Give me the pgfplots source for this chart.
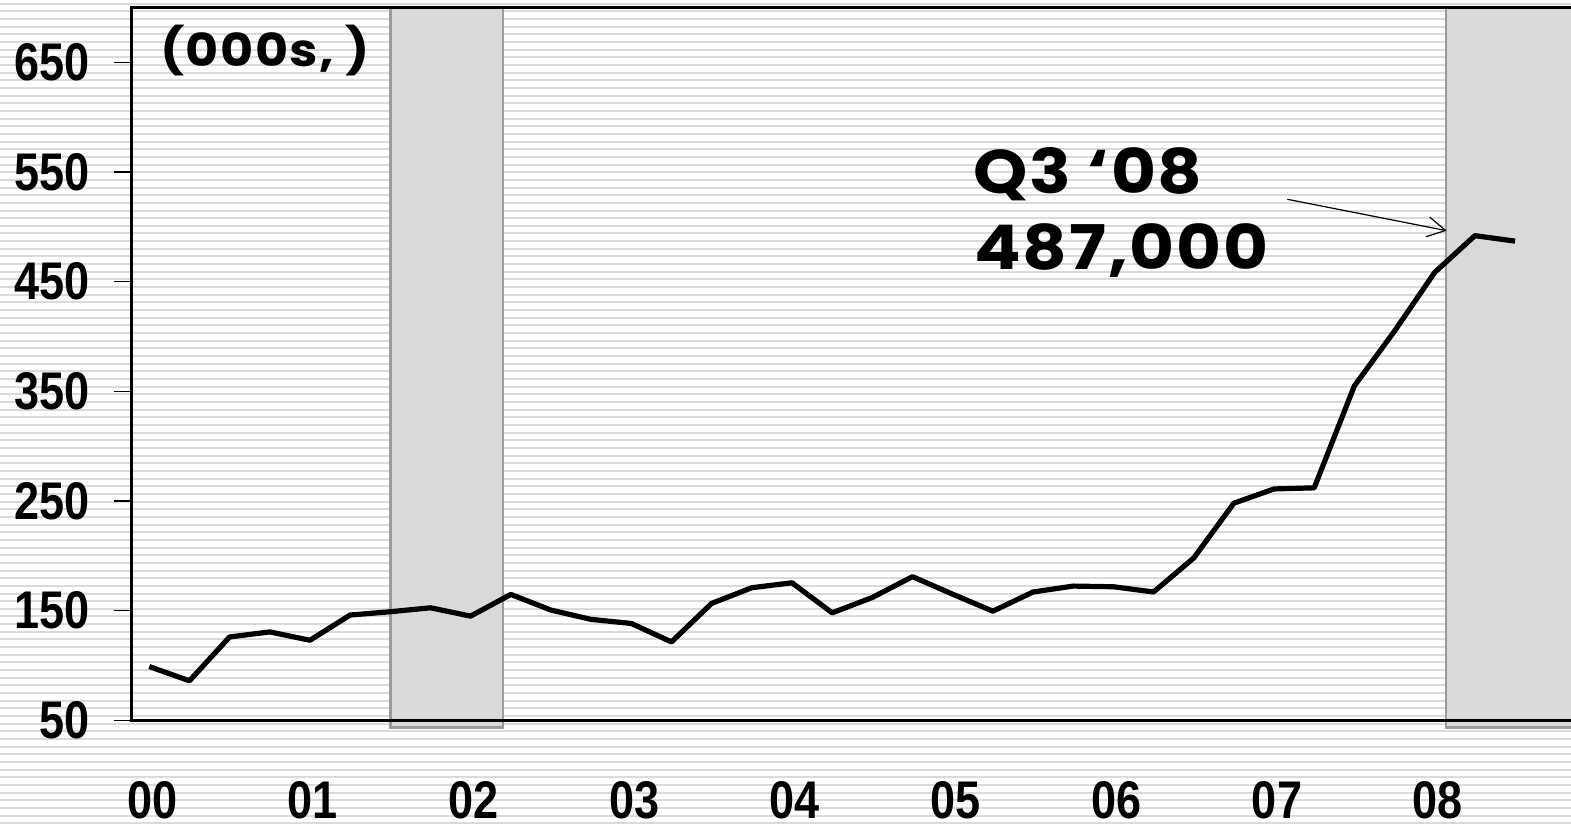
\documentclass[border=0pt]{standalone}
\usepackage{pgfplots}
\pgfplotsset{compat=1.18}
\usepackage{pgfplotstable}
\usepackage{fontspec}
\usetikzlibrary{arrows.meta}
\newfontfamily\narrowfont[FakeStretch=0.85]{Liberation Sans}
\newfontfamily\geofont[FakeStretch=1.12, LetterSpace=3]{Poppins}
\definecolor{stripe}{RGB}{218,218,218}
\definecolor{shade}{RGB}{217,217,217}
\definecolor{shadeedge}{RGB}{155,155,155}

\pgfplotstableread{
t v
0 99
1 86
2 126
3 130.6
4 123
5 146
6 149
7 152.6
8 145
9 164.8
10 150.5
11 142
12 138.3
13 121.5
14 156.6
15 170.9
16 175.4
17 148
18 162
19 181
20 165
21 149.5
22 167
23 172.4
24 171.8
25 167
26 198
27 248
28 261
29 262
30 355
31 405
32 458.5
33 492
34 487
}\datatab

\begin{document}
\begin{tikzpicture}
\path[use as bounding box] (0pt,0pt) rectangle (785.5pt,414pt);
\foreach \n in {0,...,107}{
  \fill[stripe] (0pt,{(413.5-(3.7+7.66*\n)*0.5)*1pt}) rectangle (785.5pt,{(414.5-(3.7+7.66*\n)*0.5)*1pt});
}
\begin{axis}[
  at={(65.6pt,53.85pt)}, anchor=south west,
  scale only axis, width=732.1pt, height=356.35pt,
  xmin=-0.45, xmax=36, ymin=50, ymax=700,
  clip=false, axis on top,
  axis line style={line width=1.6pt, black},
  ytick={50,150,...,650},
  xtick={0,4,...,32},
  xticklabels={00,01,02,03,04,05,06,07,08},
  tick align=outside,
  major tick length=8.5pt,
  ytick style={line width=0.6pt, black},
  xtick style={draw=none},
  tick label style={font=\narrowfont\bfseries\fontsize{26.5}{26.5}\selectfont},
  /pgf/number format/assume math mode=true,
  yticklabel style={anchor=east, inner sep=0pt, xshift=-12.1pt},
  xticklabel style={anchor=base, inner sep=0pt, yshift=-40.6pt, xshift=1.5pt},
]
\addplot[fill=shade, draw=shadeedge, line width=1.2pt] coordinates {(6.01,43.25) (8.81,43.25) (8.81,700) (6.01,700)} -- cycle;
\addplot[fill=shade, draw=shadeedge, line width=1.2pt] coordinates {(32.28,43.25) (37,43.25) (37,700) (32.28,700)} -- cycle;
\addplot[black, line width=2.6pt, line join=round] table[x=t,y=v]{\datatab};
\end{axis}
\node[anchor=base west, inner sep=0pt, font=\geofont\bfseries\fontsize{22.7}{22.7}\selectfont] at (80pt,380.65pt) {(000s, )};
\node[anchor=base west, inner sep=0pt, font=\geofont\bfseries\fontsize{30.8}{30.8}\selectfont] at (486.35pt,317.35pt) {Q3 ‘08};
\node[anchor=base west, inner sep=0pt, font=\geofont\bfseries\fontsize{30.8}{30.8}\selectfont] at (487pt,279pt) {487,000};
\draw[line width=0.6pt, -{Straight Barb[length=9pt,width=10pt]}] (643.65pt,314.35pt) -- (723.35pt,298.65pt);
\end{tikzpicture}
\end{document}
